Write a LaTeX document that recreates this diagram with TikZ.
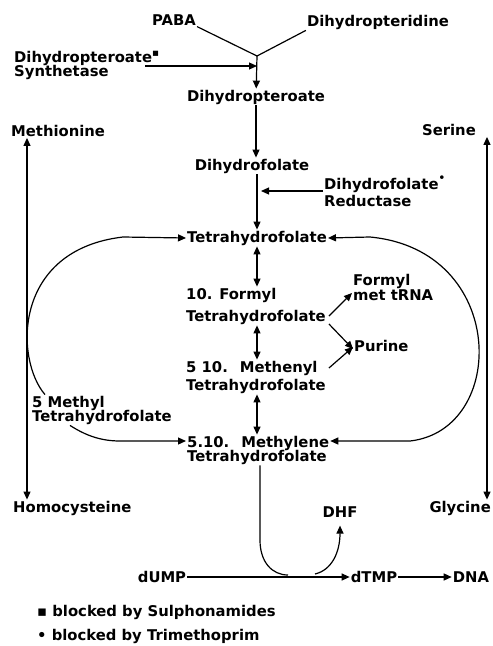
\documentclass[tikz,border=0pt]{standalone}
\usepackage{fontspec}
\setmainfont{DejaVu Sans}
\usetikzlibrary{arrows.meta,calc}
\tikzset{
  lbl/.style={font=\bfseries\fontsize{14.8}{17}\selectfont,inner sep=1pt},
  flow/.style={-{Triangle[length=8pt,width=7pt]},line width=1.2pt},
  dflow/.style={{Triangle[length=8pt,width=7pt]}-{Triangle[length=8pt,width=7pt]},line width=1.2pt},
  plain/.style={line width=1.2pt}
}
\begin{document}
\begin{tikzpicture}[x=1pt,y=-1pt]
\useasboundingbox (0,0) rectangle (493,646);
% synthesis of the folate
\node[lbl] (paba) at (174,20) {PABA};
\node[lbl] (dhpt) at (378,22) {Dihydropteridine};
\node[lbl,anchor=west,align=left] (dps) at (13,65) {Dihydropteroate\textsuperscript{▪}\\[-3pt]Synthetase};
\node[lbl] (dhp) at (256,97) {Dihydropteroate};
\node[lbl] (dhf) at (252,166) {Dihydrofolate};
\node[lbl,anchor=west,align=left] (dhfr) at (323,191) {Dihydrofolate\raisebox{3pt}{\textsuperscript{•}}\\Reductase};
\node[lbl] (thf) at (257,238) {Tetrahydrofolate};
% the one-carbon forms
\node[lbl,anchor=west,align=left] (formyl) at (185,306) {10. Formyl\\[5pt]Tetrahydrofolate};
\node[lbl,anchor=west,align=left] (methenyl) at (185,377) {5 10.~ Methenyl\\[1pt]Tetrahydrofolate};
\node[lbl,anchor=west,align=left] (methylene) at (186,450) {5.10.~ Methylene\\[-3pt]Tetrahydrofolate};
\node[lbl,anchor=west,align=left] (fmet) at (352,287) {Formyl\\[-2pt]met tRNA};
\node[lbl,anchor=west] (purine) at (353,346) {Purine};
\node[lbl,anchor=west,align=left] (methyl5) at (31,410) {5 Methyl\\[-3pt]Tetrahydrofolate};
% amino acids at the sides
\node[lbl,anchor=west] (methionine) at (10,131) {Methionine};
\node[lbl,anchor=east] (serine) at (477,130) {Serine};
\node[lbl,anchor=west] (homocys) at (12,508) {Homocysteine};
\node[lbl,anchor=east] (glycine) at (492,508) {Glycine};
% thymidylate
\node[lbl] (dhfout) at (340,512) {DHF};
\node[lbl] (dump) at (162,577) {dUMP};
\node[lbl] (dtmp) at (374,577) {dTMP};
\node[lbl] (dna) at (471,577) {DNA};
% legend
\node[lbl,anchor=west] (leg1) at (36,612) {▪ blocked by Sulphonamides};
\node[lbl,anchor=west] (leg2) at (36,636) {• blocked by Trimethoprim};

\coordinate (jn) at (257,56);
\coordinate (syn) at (145,66);
\draw[plain] (paba.south east) -- (jn);
\draw[plain] (dhpt.south west) -- (jn);
\draw[flow] (jn) -- (dhp);
\draw[flow] (syn) -- (syn -| jn);
\draw[flow] (dhp) -- (dhf.north -| dhp);
\draw[flow] (dhf.south -| thf) -- (thf);
\draw[flow] (dhfr.west) -- ([xshift=4pt]dhfr.west -| thf);
\draw[dflow] (thf.south) -- (thf.south |- formyl.north);
\draw[dflow] (thf.south |- formyl.south) -- (thf.south |- methenyl.north);
\draw[dflow] (thf.south |- methenyl.south) -- (thf.south |- methylene.north);
\draw[flow] ([xshift=2pt,yshift=-10pt]formyl.east) -- ([yshift=-6pt]fmet.west);
\draw[flow] ([xshift=2pt,yshift=-18pt]formyl.east) -- ([yshift=-3pt]purine.west);
\draw[flow] ([xshift=2pt,yshift=9pt]methenyl.east) -- ([yshift=-1pt]purine.west);
% folate cycle loops
\draw[flow] ([xshift=14pt]methyl5.north west) .. controls (15,360) and (12,250) .. (123,237) -- (thf.west);
\draw[flow] ([xshift=39pt]methyl5.south west) .. controls (85,435) and (100,441) .. (120,441) -- ([yshift=9pt]methylene.west);
\draw[dflow] ([yshift=9pt]methylene.east) -- (410,441) .. controls (508,430) and (508,250) .. (370,237) -- (thf.east);
\draw[dflow] ([xshift=17pt]methionine.south west) -- ([xshift=15pt]homocys.north west);
\draw[dflow] ([xshift=10pt]serine.south east) -- ([xshift=-5pt]glycine.north east);
% thymidylate synthase step
\coordinate (td1) at (288,575);
\coordinate (td2) at (315,574);
\draw[plain] (methylene.south -| 260,0) -- (260,540) .. controls (260,562) and (272,575) .. (td1);
\draw[flow] (td2) .. controls (332,570) and (340,552) .. ([yshift=-7pt]dhfout.south);
\draw[flow] (dump) -- (dtmp);
\draw[flow] (dtmp) -- (dna);
\end{tikzpicture}
\end{document}
